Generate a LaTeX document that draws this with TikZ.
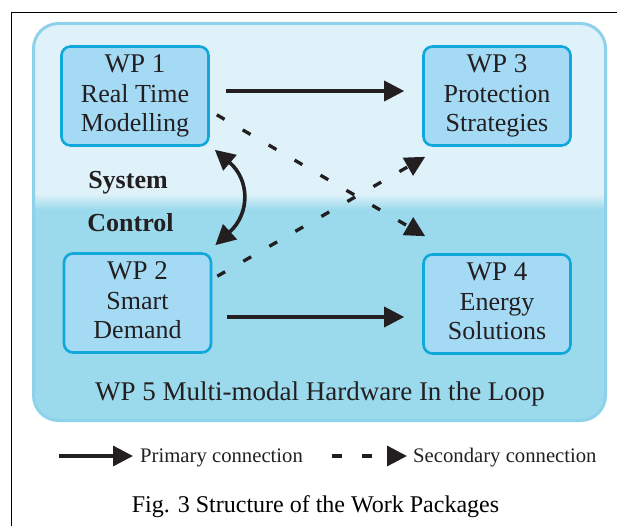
\documentclass[tikz,border=0pt]{standalone}
\usepackage{fontspec}
\setmainfont{Liberation Serif}
\usetikzlibrary{arrows.meta}
\definecolor{ink}{HTML}{231F20}
\definecolor{paneltop}{HTML}{DFF2F9}
\definecolor{panelbot}{HTML}{9BD9EC}
\definecolor{panelline}{HTML}{8DD2EA}
\definecolor{boxfill}{HTML}{A5DAF5}
\definecolor{boxline}{HTML}{10A8DA}
\newcommand\wpheadfont{\rmfamily\fontsize{27}{29.5}\selectfont}
\newcommand\wpbodyfont{\rmfamily\fontsize{26}{29.5}\selectfont}
\tikzset{
  wpbox/.style={draw=boxline, fill=boxfill, line width=2.6pt, rounded corners=9pt,
    minimum width=147pt, minimum height=99pt, align=center, font=\wpbodyfont,
    text=ink, inner sep=0pt},
  panelnode/.style={draw=panelline, line width=3pt, rounded corners=25pt,
    minimum width=572pt, minimum height=397pt, inner sep=0pt},
  tipbig/.style={-{Triangle[length=20pt,width=20pt]}},
  primary/.style={draw=ink, line width=3.4pt, tipbig},
  secondary/.style={draw=ink, line width=3.3pt, dash pattern=on 9pt off 21pt, tipbig},
  biarrow/.style={draw=ink, line width=3.6pt,
    {Triangle[length=20pt,width=20pt]}-{Triangle[length=20pt,width=20pt]}},
  ctrltext/.style={font=\rmfamily\fontsize{26}{30}\selectfont\bfseries, text=ink, anchor=base, inner sep=0pt},
  legtext/.style={font=\rmfamily\fontsize{20.7}{24}\selectfont, text=ink, anchor=base west, inner sep=0pt},
}
\begin{document}
\begin{tikzpicture}[x=1pt, y=-1pt]
\useasboundingbox (0,0) rectangle (617,526);
% outer frame
\draw[line width=1.2pt, black] (11.5,526) -- (11.5,12.5) -- (617,12.5);
% panel background
\begin{scope}
  \clip[rounded corners=25pt] (33.5,23.5) rectangle (605.5,420.5);
  \fill[paneltop] (30,20) rectangle (610,194);
  \shade[top color=paneltop, bottom color=panelbot] (30,193.5) rectangle (610,210);
  \fill[panelbot] (30,209.5) rectangle (610,425);
\end{scope}
\node[panelnode] (wp5) at (319.5,222) {};
\node[font=\rmfamily\fontsize{27}{30}\selectfont, text=ink, anchor=base, inner sep=0pt] (wp5t) at (320,400) {WP 5 Multi-modal Hardware In the Loop};
% work package boxes
\node[wpbox] (wp1) at (135,96) {{\wpheadfont WP 1}\\Real Time\\Modelling\vphantom{g}};
\node[wpbox] (wp3) at (497,96) {{\wpheadfont WP 3}\\Protection\\Strategies\vphantom{g}};
\node[wpbox] (wp2) at (137.5,303) {{\wpheadfont WP 2}\\Smart\\Demand\vphantom{g}};
\node[wpbox] (wp4) at (497,304) {{\wpheadfont WP 4}\\Energy\\Solutions\vphantom{g}};
% connections
\draw[primary] ([shift={(16,-5)}]wp1.east) -- ([shift={(-18,-5)}]wp3.west);
\draw[primary] ([shift={(15,14)}]wp2.east) -- ([shift={(-18,13)}]wp4.west);
\draw[secondary] ([shift={(7,-32)}]wp1.south east) -- ([shift={(3,-17)}]wp4.north west);
\draw[secondary] ([shift={(5,24)}]wp2.north east) -- ([shift={(3,10)}]wp3.south west);
\draw[biarrow] ([shift={(5,3)}]wp1.south east) .. controls +(35,30) and +(35,-32) .. ([shift={(3,-7)}]wp2.north east);
\node[ctrltext] (sys) at (128,189) {System};
\node[ctrltext] (ctl) at (130.5,232) {Control};
% legend
\coordinate (l1a) at (59,456);
\coordinate (l1b) at (133,456);
\draw[primary] (l1a) -- (l1b);
\node[legtext] (l1t) at (140,462) {Primary connection};
\coordinate (l2a) at (332,456);
\coordinate (l2b) at (407,456);
\draw[draw=ink, line width=3.3pt, dash pattern=on 10pt off 20pt, tipbig] (l2a) -- (l2b);
\node[legtext] (l2t) at (413,462) {Secondary connection};
% caption
\node[font=\rmfamily\fontsize{24}{28}\selectfont, text=black, anchor=base, inner sep=0pt] (cap) at (315.5,512) {Fig. 3 Structure of the Work Packages};
\end{tikzpicture}
\end{document}
